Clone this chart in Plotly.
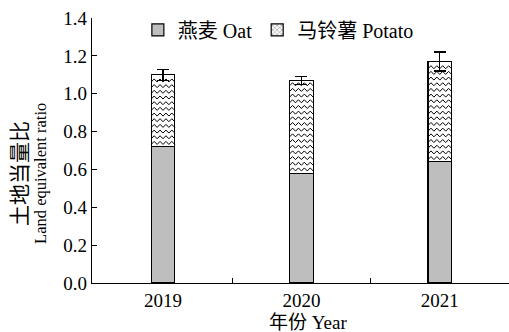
import plotly.graph_objects as go

# Land equivalent ratio of the oat/potato intercrop, by year
years = ["2019", "2020", "2021"]
oat = [0.72, 0.58, 0.64]
potato = [0.38, 0.49, 0.53]
total_err = [0.03, 0.02, 0.05]
y_ticks = [0.0, 0.2, 0.4, 0.6, 0.8, 1.0, 1.2, 1.4]

FONT = "Liberation Serif, Noto Sans CJK SC, serif"
BAR_W = 0.17
xpos = list(range(len(years)))

fig = go.Figure()

fig.add_trace(go.Bar(
    x=xpos, y=oat, width=BAR_W, name="燕麦 Oat",
    marker=dict(color="#bebebe", line=dict(color="black", width=1.2)),
))
fig.add_trace(go.Bar(
    x=xpos, y=potato, width=BAR_W, name="马铃薯 Potato", showlegend=False,
    marker=dict(color="white", line=dict(color="black", width=1.2)),
    error_y=dict(type="data", array=total_err, color="black", thickness=1.2, width=6),
))

# wavy hatch texture inside the potato segments
hx, hy = [], []
row_gap = 0.03
amp = 0.016
half = BAR_W / 8
for i, (lo, h) in enumerate(zip(oat, potato)):
    top = lo + h
    x0 = i - BAR_W / 2
    y = lo + 0.012
    while y + amp < top - 0.008:
        for k in range(9):
            hx.append(x0 + k * half)
            hy.append(y + (amp if k % 2 else 0))
        hx.append(None)
        hy.append(None)
        y += row_gap
fig.add_trace(go.Scatter(
    x=hx, y=hy, mode="lines", showlegend=False, hoverinfo="skip",
    line=dict(color="black", width=1),
))

# legend entry for the hatched segment
fig.add_trace(go.Bar(
    x=[None], y=[None], name="马铃薯 Potato",
    marker=dict(color="white", line=dict(color="black", width=1.2),
                pattern=dict(shape="x", size=4, solidity=0.3, fgcolor="black")),
))

# axis titles
fig.add_annotation(text="土地当量比", xref="paper", yref="paper", x=-0.173, y=0.415,
                   xanchor="center", yanchor="middle", textangle=-90, showarrow=False,
                   font=dict(size=21))
fig.add_annotation(text="Land equivalent ratio", xref="paper", yref="paper", x=-0.125, y=0.415,
                   xanchor="center", yanchor="middle", textangle=-90, showarrow=False,
                   font=dict(size=16.5))
fig.add_annotation(text="年份 Year", xref="paper", yref="paper", x=0.518, y=-0.15,
                   xanchor="center", yanchor="middle", showarrow=False,
                   font=dict(size=19))

fig.update_layout(
    width=509, height=332,
    margin=dict(l=92, r=0, t=18, b=49),
    barmode="stack",
    plot_bgcolor="white", paper_bgcolor="white",
    font=dict(family=FONT, size=19, color="black"),
    showlegend=True,
    legend=dict(orientation="h", x=0.11, y=0.955, yanchor="middle", xanchor="left",
                bgcolor="rgba(0,0,0,0)", font=dict(size=20), traceorder="normal",
                itemwidth=30),
    xaxis=dict(
        range=[-0.513, 2.5], tickvals=xpos, ticktext=years, ticks="", showgrid=False,
        showline=True, linecolor="black", linewidth=1.2, zeroline=False,
        minor=dict(tickvals=[0.5, 1.5], ticks="inside", ticklen=5, tickcolor="black", tickwidth=1.2),
        tickfont=dict(size=19),
    ),
    yaxis=dict(
        range=[0, 1.4], tickvals=y_ticks, tickformat=".1f", ticks="inside", ticklen=5,
        tickcolor="black", tickwidth=1.2, showgrid=False, zeroline=False,
        showline=True, linecolor="black", linewidth=1.2,
        tickfont=dict(size=19),
    ),
)

fig.write_html("out.html")
